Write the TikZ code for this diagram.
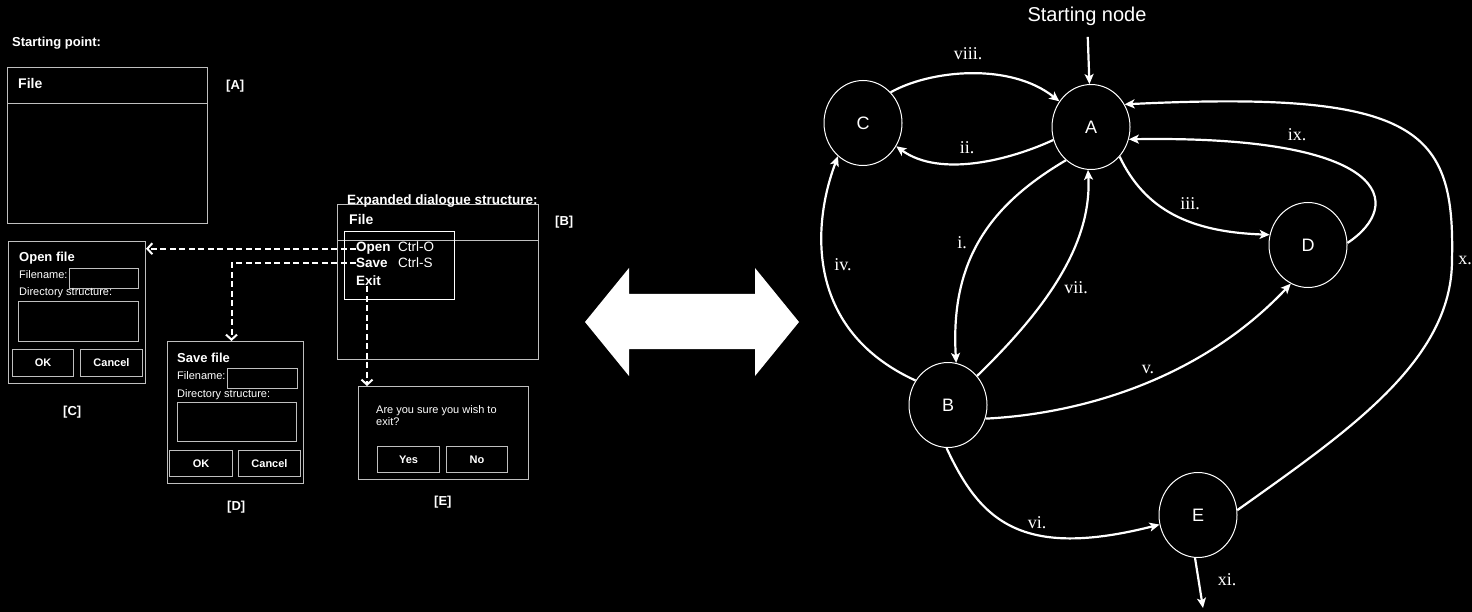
\documentclass[tikz,border=0pt]{standalone}
\usepackage{fontspec}
\setmainfont{Liberation Serif}
\setsansfont{Liberation Sans}
\usetikzlibrary{arrows.meta,shapes.geometric}
\tikzstyle{state}=[shape=ellipse, draw=white, line width=1pt, minimum width=78pt, minimum height=85pt, inner sep=0, text=white, font=\sffamily\fontsize{18}{18}\selectfont]
\tikzstyle{edge}=[draw=white, line width=2.2pt, -{Stealth[length=10pt,width=9pt,inset=2.5pt]}]
\tikzstyle{lbl}=[text=white, font=\fontsize{18}{18}\selectfont]
\tikzstyle{win}=[draw=white!75!black, line width=1pt, inner sep=0, anchor=north west]
\tikzstyle{btn}=[win, text=white, font=\sffamily\bfseries\fontsize{11}{11}\selectfont]
\tikzstyle{ui}=[text=white, font=\sffamily\fontsize{11}{13}\selectfont, inner sep=0, anchor=base west]
\tikzstyle{uib}=[ui, font=\sffamily\bfseries\fontsize{13}{15}\selectfont]
\tikzstyle{menu}=[ui, font=\sffamily\fontsize{13.5}{15}\selectfont]
\tikzstyle{link}=[draw=white, line width=2pt, dash pattern=on 6pt off 3.5pt, -{Straight Barb[length=5pt,width=11pt]}]

\begin{document}
\begin{tikzpicture}[x=1pt, y=-1pt]
\fill[black] (0,0) rectangle (1472,612);
\useasboundingbox (0,0) rectangle (1472,612);

% starting point [A]
\node[uib] (startpt) at (12,47) {Starting point:};
\node[win, minimum width=200pt, minimum height=156pt] (boxA) at (7,67) {};
\draw[win] (7,104) -- (207,104);
\node[uib, font=\sffamily\bfseries\fontsize{14}{15}\selectfont] (fileA) at (18,89) {File};
\node[uib] (tagA) at (226,90) {[A]};

% expanded structure [B]
\node[win, minimum width=201pt, minimum height=155pt] (boxB) at (337,204) {};
\draw[win] (337,241) -- (538,241);
\node[uib, font=\sffamily\bfseries\fontsize{13.5}{15}\selectfont] (expand) at (347,205) {Expanded dialogue structure:};
\node[uib, font=\sffamily\bfseries\fontsize{14}{15}\selectfont] (fileB) at (349,225) {File};
\node[uib] (tagB) at (555,226) {[B]};
\node[win, draw=white, minimum width=110pt, minimum height=68pt] (menuB) at (344,231) {};
\node[menu, font=\sffamily\bfseries\fontsize{13.5}{15}\selectfont] (open) at (356,252) {Open};
\node[menu] (ctrlo) at (398,252) {Ctrl-O};
\node[menu, font=\sffamily\bfseries\fontsize{13.5}{15}\selectfont] (save) at (356,268) {Save};
\node[menu] (ctrls) at (398,268) {Ctrl-S};
\node[menu, font=\sffamily\bfseries\fontsize{13.5}{15}\selectfont] (exit) at (356,286) {Exit};

% open file [C]
\node[win, minimum width=137pt, minimum height=142pt] (boxC) at (8,241) {};
\node[uib] (openC) at (19,262) {Open file};
\node[ui] (nameC) at (19,279) {Filename:};
\node[win, minimum width=69pt, minimum height=20pt] (fieldC) at (69,268) {};
\node[ui] (dirC) at (19,296) {Directory structure:};
\node[win, minimum width=120pt, minimum height=40pt] (listC) at (18,301) {};
\node[btn, minimum width=61pt, minimum height=27pt] (okC) at (12,349) {OK};
\node[btn, minimum width=62pt, minimum height=27pt] (cancelC) at (80,349) {Cancel};
\node[uib] (tagC) at (63,415) {[C]};

% save file [D]
\node[win, minimum width=136pt, minimum height=142pt] (boxD) at (167,341) {};
\node[uib] (saveD) at (177,362) {Save file};
\node[ui] (nameD) at (177,379) {Filename:};
\node[win, minimum width=70pt, minimum height=20pt] (fieldD) at (227,368) {};
\node[ui] (dirD) at (177,397) {Directory structure:};
\node[win, minimum width=119pt, minimum height=39pt] (listD) at (177,402) {};
\node[btn, minimum width=63pt, minimum height=26pt] (okD) at (169,450) {OK};
\node[btn, minimum width=62pt, minimum height=26pt] (cancelD) at (238,450) {Cancel};
\node[uib] (tagD) at (227,510) {[D]};

% exit [E]
\node[win, minimum width=170pt, minimum height=93pt] (boxE) at (358,386) {};
\node[ui] (askE) at (376,413) {Are you sure you wish to};
\node[ui] (askE2) at (376,425) {exit?};
\node[btn, minimum width=62pt, minimum height=26pt] (yesE) at (377,446) {Yes};
\node[btn, minimum width=61pt, minimum height=26pt] (noE) at (446,446) {No};
\node[uib] (tagE) at (434,505) {[E]};

% menu links
\draw[link] (open.west) -- (open.west -| boxC.east);
\draw[link] (save.west) -| ([xshift=-4pt]boxD.north);
\draw[link] ([xshift=11pt]exit.south west) -- ([xshift=11pt]exit.south west |- boxE.north);

% double arrow
\fill[white] (585,322) -- (629,268) -- (629,294) -- (755,294) -- (755,268) -- (799,322)
  -- (755,376) -- (755,349) -- (629,349) -- (629,376) -- cycle;

% state graph
\node[state] (A) at (1091,127) {A};
\node[state] (C) at (863,123) {C};
\node[state] (D) at (1308,245) {D};
\node[state] (B) at (948,405) {B};
\node[state] (E) at (1198,515) {E};
\node[text=white, font=\sffamily\fontsize{20}{20}\selectfont] (start) at (1087,16) {Starting node};
\coordinate (endpt) at (1203,608);

\draw[edge, shorten <=8pt] (start) -- (A);
\draw[edge] (C.48) .. controls (930,70) and (1010,62) .. (A.141);
\draw[edge] (A.199) .. controls (1010,160) and (940,178) .. (C.325);
\draw[edge] (B.143) .. controls (805,330) and (812,225) .. (C.233);
\draw[edge] (A.233) .. controls (990,205) and (950,260) .. (B.79);
\draw[edge] (B.45) .. controls (1045,310) and (1092,245) .. (A.266);
\draw[edge] (A.314) .. controls (1145,210) and (1190,232) .. (D.165);
\draw[edge] (D.3) .. controls (1405,205) and (1392,135) .. (A.342);
\draw[edge] (E.7) .. controls (1350,430) and (1452,360) .. (1452,260)
  .. controls (1455,130) and (1420,90) .. (A.34);
\draw[edge] (B.340) .. controls (1080,414) and (1200,380) .. (D.246);
\draw[edge] (B.268) .. controls (980,520) and (1020,560) .. (E.194);
\draw[edge] (E.266) -- (endpt);

\node[lbl] (l8) at (968,54) {viii.};
\node[lbl] (l2) at (967,148) {ii.};
\node[lbl] (l4) at (843,265) {iv.};
\node[lbl] (l1) at (962,243) {i.};
\node[lbl] (l7) at (1076,288) {vii.};
\node[lbl] (l5) at (1148,369) {v.};
\node[lbl] (l3) at (1190,204) {iii.};
\node[lbl] (l9) at (1297,135) {ix.};
\node[lbl] (l10) at (1465,260) {x.};
\node[lbl] (l6) at (1037,523) {vi.};
\node[lbl] (l11) at (1227,580) {xi.};
\end{tikzpicture}
\end{document}
